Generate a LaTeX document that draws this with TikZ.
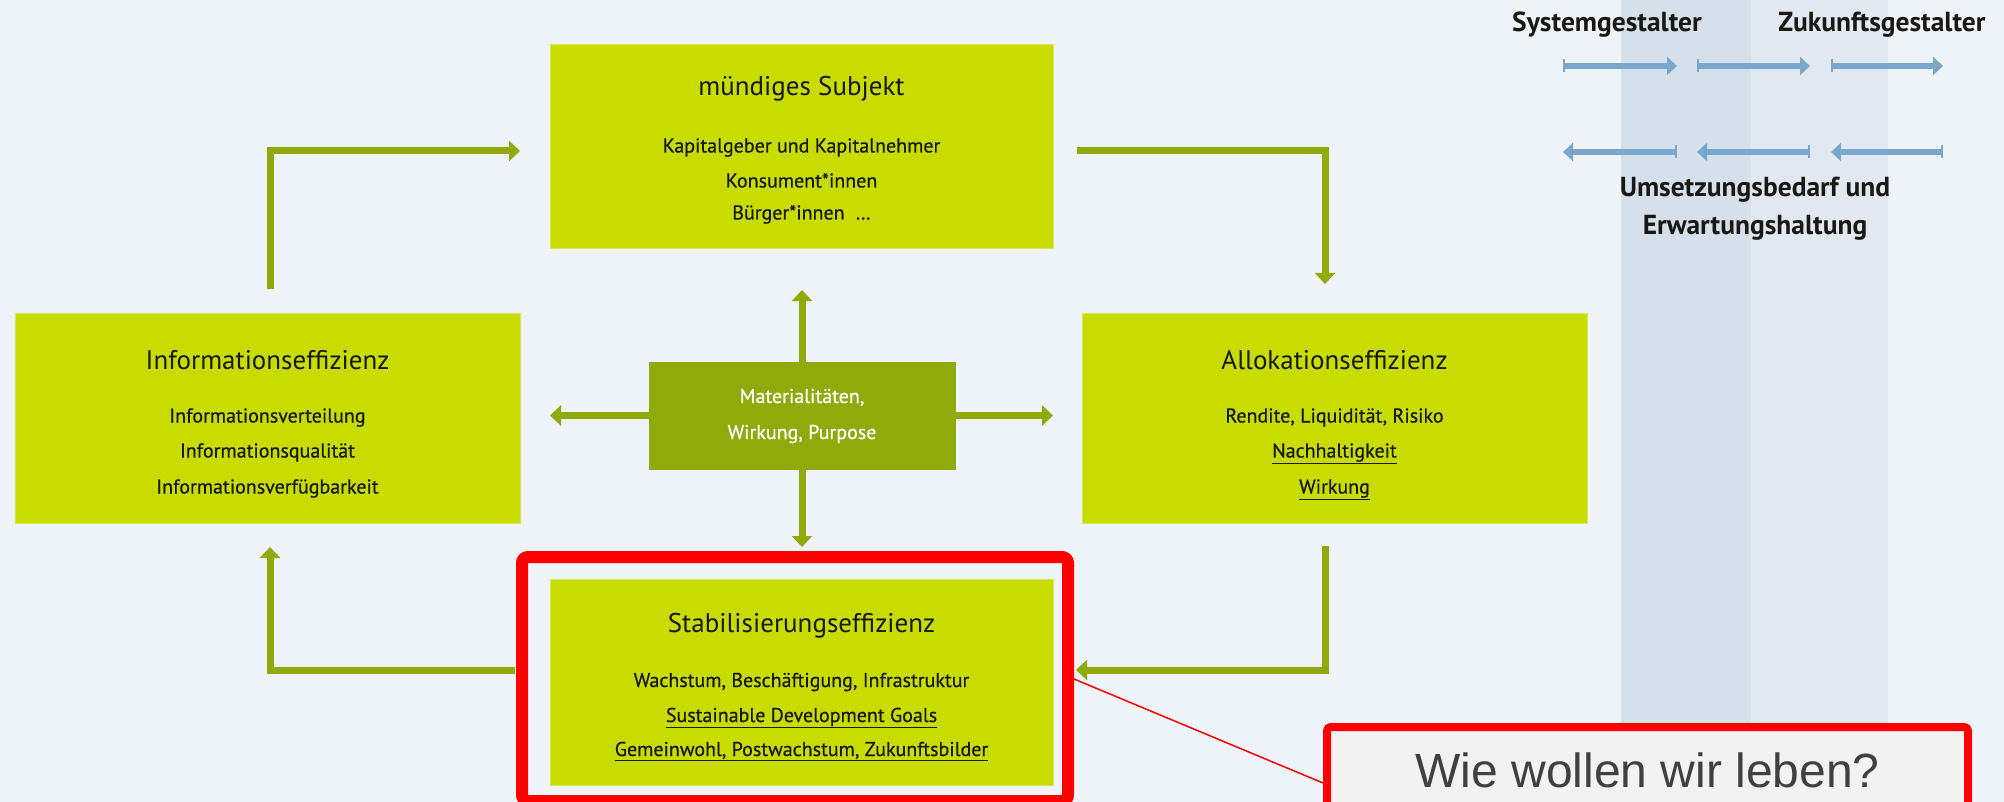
\documentclass[tikz,border=0pt]{standalone}
\usepackage{fontspec}
\setmainfont{PT Sans}
\newfontfamily\heavyfont{PT Sans}[FakeBold=0.6]
\newfontfamily\calloutfont{Liberation Sans}
\usetikzlibrary{arrows.meta}
\definecolor{bg}{RGB}{239,243,250}
\definecolor{boxgreen}{RGB}{200,220,0}
\definecolor{boxedge}{RGB}{214,232,90}
\definecolor{darkgreen}{RGB}{143,170,10}
\definecolor{colA}{RGB}{214,224,235}
\definecolor{colB}{RGB}{225,232,241}
\definecolor{bluearr}{RGB}{123,167,204}
\definecolor{callfill}{RGB}{242,242,242}
\definecolor{calltext}{RGB}{64,64,64}
\definecolor{txt}{RGB}{25,25,20}
\begin{document}
\begin{tikzpicture}[x=1pt,y=-1pt,
  gbox/.style={fill=boxgreen, draw=boxedge, line width=1pt, inner sep=0pt, outer sep=0pt},
  mbox/.style={fill=darkgreen, inner sep=0pt, outer sep=0pt},
  titletext/.style={font=\fontsize{27}{27}\selectfont, text=txt, anchor=base, inner sep=0pt},
  bodytext/.style={font=\heavyfont\fontsize{20}{20}\selectfont, text=txt, anchor=base, inner sep=0pt},
  midtext/.style={font=\heavyfont\fontsize{20}{20}\selectfont, text=white, anchor=base, inner sep=0pt},
  hdrtext/.style={font=\bfseries\fontsize{27.5}{27.5}\selectfont, text=txt, anchor=base, inner sep=0pt},
  garrow/.style={draw=darkgreen, line width=7pt, -{Triangle[length=11pt,width=20pt]}},
  barrow/.style={draw=bluearr, line width=5.5pt, {Bar[width=13pt,line width=2pt]}-{Triangle[length=10pt,width=18pt]}},
  rarrow/.style={draw=bluearr, line width=5.5pt, {Triangle[length=10pt,width=18pt]}-{Bar[width=13pt,line width=2pt]}}
]
\useasboundingbox (0,0) rectangle (2004,802);
\clip (0,0) rectangle (2004,802);
\fill[bg] (0,0) rectangle (2004,802);
% columns
\fill[colA] (1621,0) rectangle (1751,802);
\fill[colB] (1751,0) rectangle (1888,802);

% header texts
\node[hdrtext] (sys) at (1607,32) {Systemgestalter};
\node[hdrtext] (zuk) at (1882,32) {Zukunftsgestalter};
\node[hdrtext] (ums1) at (1755,197) {Umsetzungsbedarf und};
\node[hdrtext] (ums2) at (1755,235) {Erwartungshaltung};

% blue arrows
\coordinate (a1s) at (1563,66); \coordinate (a1e) at (1677,66);
\coordinate (a2s) at (1697,66); \coordinate (a2e) at (1810,66);
\coordinate (a3s) at (1831,66); \coordinate (a3e) at (1943,66);
\coordinate (b1s) at (1563,152); \coordinate (b1e) at (1677,152);
\coordinate (b2s) at (1697,152); \coordinate (b2e) at (1810,152);
\coordinate (b3s) at (1831,152); \coordinate (b3e) at (1943,152);
\draw[barrow] (a1s) -- (a1e);
\draw[barrow] (a2s) -- (a2e);
\draw[barrow] (a3s) -- (a3e);
\draw[rarrow] (b1s) -- (b1e);
\draw[rarrow] (b2s) -- (b2e);
\draw[rarrow] (b3s) -- (b3e);

% boxes
\node[gbox, minimum width=503pt, minimum height=204pt] (top) at (801.5,147) {};
\node[gbox, minimum width=505pt, minimum height=210pt] (left) at (267.5,418) {};
\node[gbox, minimum width=505pt, minimum height=210pt] (right) at (1334.5,418) {};
\node[gbox, minimum width=503pt, minimum height=206pt] (bottom) at (801.5,682) {};
\node[mbox, minimum width=307pt, minimum height=108pt] (mid) at (802,415.5) {};

% box texts
\node[titletext] (topT) at (801.5,96) {mündiges Subjekt};
\node[bodytext] (top1) at (801.5,152.5) {Kapitalgeber und Kapitalnehmer};
\node[bodytext] (top2) at (801.5,187.5) {Konsument*innen};
\node[bodytext] (top3) at (801.5,219.5) {Bürger*innen \;…};

\node[titletext] (leftT) at (267.5,369) {Informationseffizienz};
\node[bodytext] (left1) at (267.5,422.5) {Informationsverteilung};
\node[bodytext] (left2) at (267.5,457.5) {Informationsqualität};
\node[bodytext] (left3) at (267.5,493.5) {Informationsverfügbarkeit};

\node[titletext] (rightT) at (1334.5,369) {Allokationseffizienz};
\node[bodytext] (right1) at (1334.5,422.5) {Rendite, Liquidität, Risiko};
\node[bodytext] (right2) at (1334.5,457.5) {\underline{Nachhaltigkeit}};
\node[bodytext] (right3) at (1334.5,493.5) {\underline{Wirkung}};

\node[titletext] (botT) at (801.5,632) {Stabilisierungseffizienz};
\node[bodytext] (bot1) at (801.5,687) {Wachstum, Beschäftigung, Infrastruktur};
\node[bodytext] (bot2) at (801.5,722) {\underline{Sustainable Development Goals}};
\node[bodytext] (bot3) at (801.5,756) {\underline{Gemeinwohl, Postwachstum, Zukunftsbilder}};

\node[midtext] (mid1) at (802,403) {Materialitäten,};
\node[midtext] (mid2) at (802,439) {Wirkung, Purpose};

% center arrows
\coordinate (upTip) at (802,290);
\coordinate (dnTip) at (802,547);
\coordinate (lfTip) at (550,415.5);
\coordinate (rtTip) at (1053,415.5);
\draw[garrow] (mid.north) -- (upTip);
\draw[garrow] (mid.south) -- (dnTip);
\draw[garrow] (mid.west) -- (lfTip);
\draw[garrow] (mid.east) -- (rtTip);

% loop arrows
\coordinate (tlS) at (270,289); \coordinate (tlE) at (520,151);
\coordinate (trS) at (1077,151); \coordinate (trE) at (1325,284);
\coordinate (brS) at (1325,546); \coordinate (brE) at (1076,670);
\coordinate (blS) at (515,670); \coordinate (blE) at (270,547);
\draw[garrow] (tlS) |- (tlE);
\draw[garrow] (trS) -| (trE);
\draw[garrow] (brS) |- (brE);
\draw[garrow] (blS) -| (blE);

% highlight frame
\node[draw=red, line width=12pt, rounded corners=6pt, inner sep=0pt, minimum width=546pt, minimum height=244pt] (hl) at (795,679) {};

% callout
\node[draw=red, fill=callfill, line width=8pt, rounded corners=4pt, inner sep=0pt,
      text height=60pt, text depth=33pt, minimum width=641pt, text=calltext,
      font=\calloutfont\fontsize{48}{48}\selectfont] (callout) at (1647.5,773.5) {Wie wollen wir leben?};
\draw[red, line width=1.5pt] (hl.east) -- ([yshift=-9.5pt]callout.west);
\end{tikzpicture}
\end{document}
